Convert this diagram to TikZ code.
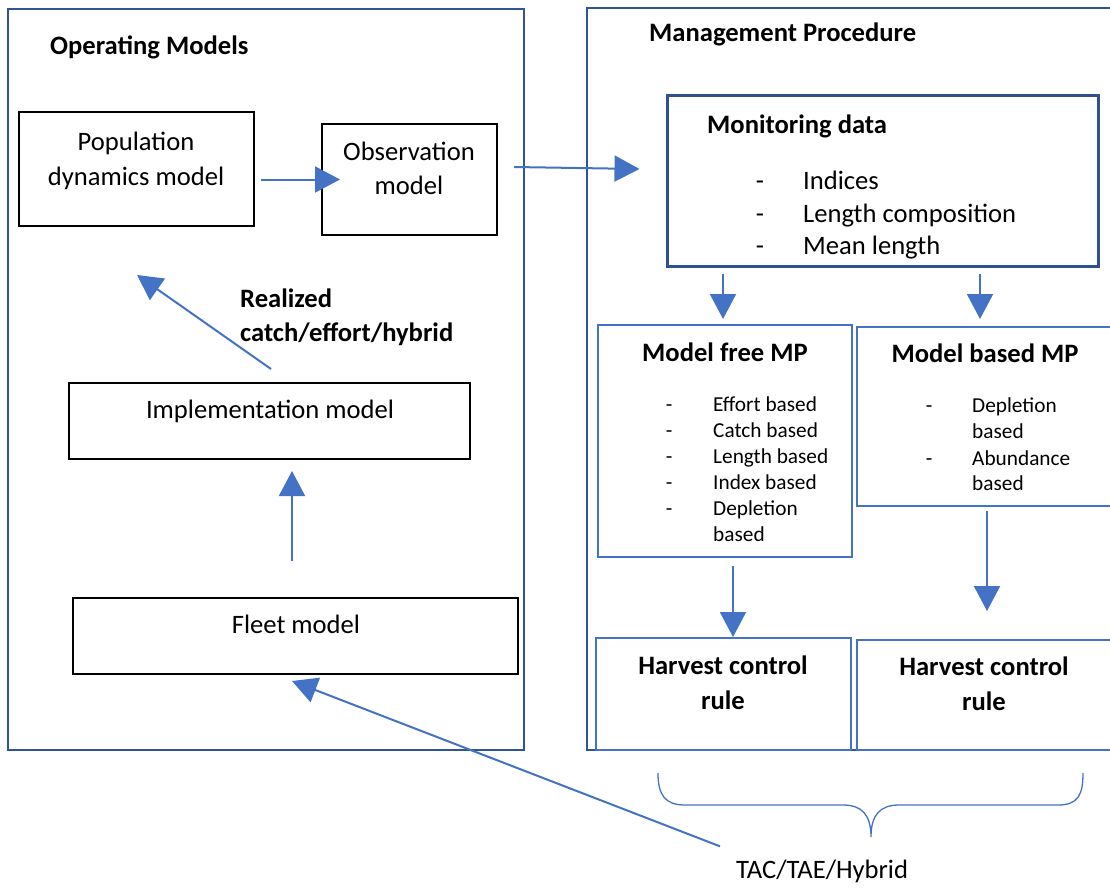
\documentclass[tikz,border=0pt]{standalone}
\usepackage{fontspec}
\setmainfont{Carlito}
\usetikzlibrary{arrows.meta,fit,calc}
\definecolor{frameblue}{HTML}{2F5597}
\definecolor{accent}{HTML}{4472C4}
\definecolor{darkframe}{HTML}{2F528F}
\begin{document}
\begin{tikzpicture}[x=1pt,y=-1pt,
  big/.style={font=\fontsize{26.6}{35}\selectfont, inner sep=0pt},
  bigb/.style={font=\fontsize{26.6}{35}\selectfont\bfseries, inner sep=0pt},
  small/.style={font=\fontsize{21.3}{26}\selectfont, inner sep=0pt},
  omframe/.style={draw=frameblue, line width=2.5pt, inner sep=0pt},
  blackbox/.style={draw=black, line width=2pt, inner sep=0pt},
  mpbox/.style={draw=accent, line width=2pt, inner sep=0pt},
  databox/.style={draw=darkframe, line width=3pt, inner sep=0pt},
  flow/.style={draw=accent, line width=2pt, -{Triangle[length=25pt,width=26pt]}},
  brace/.style={draw=accent, line width=1.3pt}]

\path[use as bounding box, clip] (0,0) rectangle (1110,888);
\fill[white] (0,0) rectangle (1110,888);

% ---------- operating models ----------
\node[omframe, fit={(8,9) (524,750)}] (om) {};
\node[bigb, anchor=base west] (omtitle) at (50,55) {Operating Models};

\node[blackbox, fit={(19,112) (254,226)}] (pop) {};
\node[big, anchor=base] (popA) at (136,150) {Population};
\node[big, anchor=base] (popB) at (136,185) {dynamics model};

\node[blackbox, fit={(322,124) (497,235)}] (obs) {};
\node[big, anchor=base] (obsA) at (409,160) {Observation};
\node[big, anchor=base] (obsB) at (409,194) {model};

\node[bigb, anchor=base west] (realA) at (240,307) {Realized};
\node[bigb, anchor=base west] (realB) at (240,341) {catch/effort/hybrid};

\node[blackbox, fit={(69,383) (470,459)}] (impl) {};
\node[big, anchor=base] (implT) at (270,418) {Implementation model};

\node[blackbox, fit={(73,598) (518,674)}] (fleet) {};
\node[big, anchor=base] (fleetT) at (296,633) {Fleet model};

% ---------- management procedure ----------
\node[omframe, fit={(587,8) (1125,750)}] (mp) {};
\node[bigb, anchor=base west] (mptitle) at (649,42) {Management Procedure};

\node[databox, fit={(667,96) (1098,266)}] (mon) {};
\node[bigb, anchor=base west] (monT) at (707,133) {Monitoring data};
\foreach \y/\t [count=\i] in {189/Indices, 222/Length composition, 254/Mean length}{
  \node[big, anchor=base] (monD\i) at (760,\y) {-};
  \node[big, anchor=base west] (monI\i) at (803,\y) {\t};
}

\node[mpbox, fit={(598,325) (852,557)}] (mf) {};
\node[bigb, anchor=base] (mfT) at (725,361) {Model free MP};
\foreach \y/\t [count=\i] in {411.5/Effort based, 437.5/Catch based, 463.5/Length based, 489.5/Index based, 515.5/Depletion}{
  \node[small, anchor=base] (mfD\i) at (669,\y) {-};
  \node[small, anchor=base west] (mfI\i) at (713,\y) {\t};
}
\node[small, anchor=base west] (mfI6) at (713,541.5) {based};

\node[mpbox, fit={(857,327) (1125,506)}] (mb) {};
\node[bigb, anchor=base] (mbT) at (985,362) {Model based MP};
\node[small, anchor=base] (mbD1) at (929,412.5) {-};
\node[small, anchor=base west] (mbI1) at (972,412.5) {Depletion};
\node[small, anchor=base west] (mbI2) at (972,438.5) {based};
\node[small, anchor=base] (mbD2) at (929,465.5) {-};
\node[small, anchor=base west] (mbI3) at (972,465.5) {Abundance};
\node[small, anchor=base west] (mbI4) at (972,490.5) {based};

\node[mpbox, fit={(596,638) (851,750)}] (hcrA) {};
\node[bigb, anchor=base] (hcrAa) at (723,674) {Harvest control};
\node[bigb, anchor=base] (hcrAb) at (723,709) {rule};

\node[mpbox, fit={(857,640) (1125,750)}] (hcrB) {};
\node[bigb, anchor=base] (hcrBa) at (984,675) {Harvest control};
\node[bigb, anchor=base] (hcrBb) at (984,710) {rule};

\node[big, anchor=base] (tac) at (822,878) {TAC/TAE/Hybrid};
\coordinate (tacEnd) at ($(tac.north)+(-102,-13)$);

% ---------- connectors ----------
\draw[flow] ([xshift=6pt]pop.east |- obs.west) -- ([xshift=19pt]obs.west);
\draw[flow] ([shift={(16,-12.5)}]obs.east) -- ([shift={(-26,-12)}]mon.west);
\draw[flow] ([shift={(1.5,-13)}]impl.north) -- ([shift={(0.5,48)}]pop.south);
\draw[flow] ([shift={(-3.5,-36)}]fleet.north) -- ([shift={(22.5,11)}]impl.south);
\draw[flow] (tacEnd) -- ([shift={(-3.5,6)}]fleet.south);

\draw[flow] ([shift={(-2,6)}]mon.south -| mf.north) -- ([shift={(-2,-5)}]mf.north);
\draw[flow] ([shift={(-11,6)}]mon.south -| mb.north) -- ([shift={(-11,-7)}]mb.north);
\draw[flow] ([shift={(8,8)}]mf.south) -- ([shift={(9.5,0)}]hcrA.north);
\draw[flow] ([shift={(-4,4)}]mb.south) -- ([shift={(-4,-28)}]hcrB.north);

% ---------- brace over both rules ----------
\draw[brace] (658,773) .. controls (658,795) and (665,805) .. (685,805)
  -- (843,805) .. controls (862,805) and (871,815) .. (871,837)
  .. controls (871,815) and (880,805) .. (899,805)
  -- (1058,805) .. controls (1078,805) and (1083,795) .. (1083,773);

\end{tikzpicture}
\end{document}
